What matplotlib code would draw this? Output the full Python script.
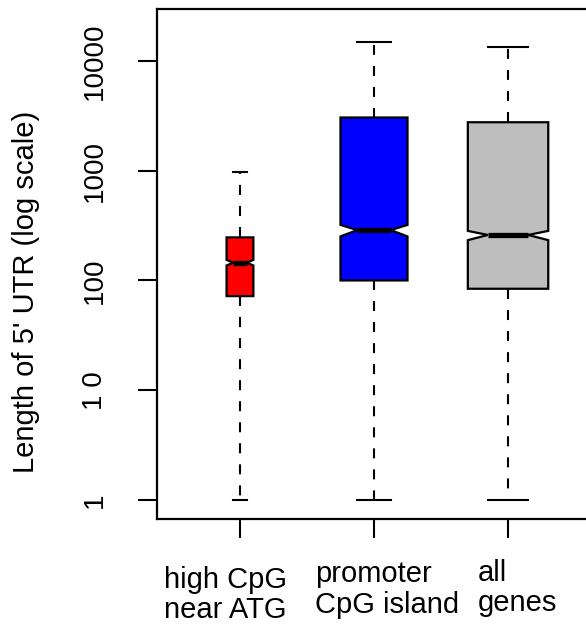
import matplotlib
matplotlib.use('Agg')
import matplotlib.pyplot as plt
from matplotlib.ticker import FixedLocator

# five-number summaries + notch limits
groups = ['high CpG\nnear ATG', 'promoter\nCpG island', 'all\ngenes']
whislo = [1, 1, 1]
q1 = [72, 100, 84]
med = [145, 288, 260]
q3 = [247, 3060, 2770]
whishi = [970, 15000, 13500]
cilo = [137, 252, 233]
cihi = [154, 321, 283]
box_colors = ['#FF0000', '#0000FF', '#BEBEBE']
box_widths = [0.2, 0.5, 0.6]

ytick_vals = [1, 10, 100, 1000, 10000]
ytick_labels = ['1', '1 0', '100', '1000', '10000']


def main():
    plt.rcParams['font.family'] = ['Liberation Sans', 'DejaVu Sans']

    fig = plt.figure(figsize=(5.86, 6.27), dpi=100)
    ax = fig.add_axes([157 / 586, 108 / 627, 434 / 586, 510 / 627])

    stats = []
    for i in range(len(groups)):
        stats.append({'whislo': whislo[i], 'q1': q1[i], 'med': med[i], 'q3': q3[i],
                      'whishi': whishi[i], 'cilo': cilo[i], 'cihi': cihi[i], 'fliers': []})

    bp = ax.bxp(stats, positions=[1, 2, 3], widths=box_widths, shownotches=True,
                patch_artist=True, showfliers=False,
                boxprops=dict(linewidth=1.6, edgecolor='black'),
                whiskerprops=dict(linewidth=1.5, linestyle=(0, (4.8, 5.3)), color='black'),
                capprops=dict(linewidth=1.5, color='black'),
                medianprops=dict(linewidth=3.8, color='black', solid_capstyle='butt'))
    for patch, c in zip(bp['boxes'], box_colors):
        patch.set_facecolor(c)

    ax.set_yscale('log')
    ax.set_ylim(10 ** -0.175, 10 ** 4.475)
    ax.set_xlim(0.381, 3.619)

    ax.yaxis.set_major_locator(FixedLocator(ytick_vals))
    ax.yaxis.set_minor_locator(FixedLocator([]))
    ax.set_yticklabels(ytick_labels, rotation=90, va='center', fontsize=20)
    ax.tick_params(axis='y', length=13.5, width=1.5, pad=22)

    ax.set_xticks([1, 2, 3])
    ax.set_xticklabels([])
    ax.tick_params(axis='x', length=13.5, width=1.5)

    for s in ax.spines.values():
        s.set_linewidth(1.6)

    ax.set_ylabel("Length of 5' UTR (log scale)", fontsize=21)
    ax.yaxis.set_label_coords(-0.27, 0.445)

    # group names, left aligned lines as in the original
    lefts = [164, 315, 478]
    base1 = [588, 582, 581]
    base2 = [618, 613, 611]
    for g, x, b1, b2 in zip(groups, lefts, base1, base2):
        l1, l2 = g.split('\n')
        fig.text(x / 586, 1 - b1 / 627, l1, fontsize=21, ha='left', va='baseline')
        fig.text(x / 586, 1 - b2 / 627, l2, fontsize=21, ha='left', va='baseline')

    fig.savefig('out.png', dpi=100)


if __name__ == '__main__':
    main()
